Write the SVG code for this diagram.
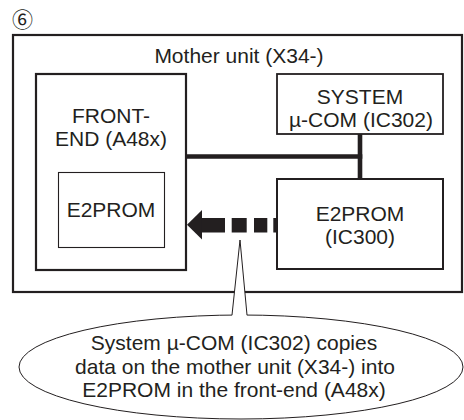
<svg xmlns="http://www.w3.org/2000/svg" width="464" height="420" viewBox="0 0 464 420">
<style>
text{font-family:"Liberation Sans",Arial,sans-serif;font-size:21px;fill:#231f20;text-anchor:middle}
.box{fill:#fff;stroke:#231f20}
.ln{fill:none;stroke:#231f20}
</style>
<rect width="464" height="420" fill="#fff"/>
<text x="12" y="27" style="font-family:'Noto Sans CJK JP','DejaVu Sans',sans-serif;font-size:21px;text-anchor:start">⑥</text>
<g id="mother">
<rect class="box" x="13" y="35" width="449" height="257" stroke-width="2.2"/>
<text x="239" y="63">Mother unit (X34-)</text>
</g>
<g id="frontend">
<rect class="box" x="36" y="74" width="150" height="196" stroke-width="2.2"/>
<text x="111" y="123">FRONT-</text>
<text x="111" y="146">END (A48x)</text>
</g>
<g id="e2prom-fe">
<rect class="box" x="58.5" y="172.5" width="106" height="75" stroke-width="1.1"/>
<text x="111" y="217">E2PROM</text>
</g>
<g id="system">
<rect class="box" x="277" y="74" width="166" height="60" stroke-width="1.8"/>
<text x="360" y="104">SYSTEM</text>
<text x="361" y="127">µ-COM (IC302)</text>
</g>
<g id="e2prom-ic300">
<rect class="box" x="277" y="179" width="166" height="90" stroke-width="2"/>
<text x="360" y="221">E2PROM</text>
<text x="360" y="244">(IC300)</text>
</g>
<g id="connectors">
<path class="ln" d="M186 156.5H362.5M360 134V179" stroke-width="4.6"/>
<g fill="#231f20">
<polygon points="187,224.7 202,210 202,239.4"/>
<rect x="201.5" y="218" width="23.5" height="14.5"/>
<rect x="231.7" y="218" width="15" height="14.5"/>
<rect x="254" y="218" width="13.3" height="14.5"/>
<rect x="273.3" y="218" width="4" height="14.5"/>
</g>
</g>
<g id="callout">
<ellipse class="ln" cx="241" cy="367" rx="222" ry="52" stroke-width="1"/>
<polygon points="240,240 232,315 232.6,317 246.4,317 247,315" fill="#fff"/>
<polyline class="ln" points="232,315 240,240 247,315" stroke-width="1"/>
<text x="234" y="350">System µ-COM (IC302) copies</text>
<text x="235" y="373.5">data on the mother unit (X34-) into</text>
<text x="234" y="397">E2PROM in the front-end (A48x)</text>
</g>
</svg>
